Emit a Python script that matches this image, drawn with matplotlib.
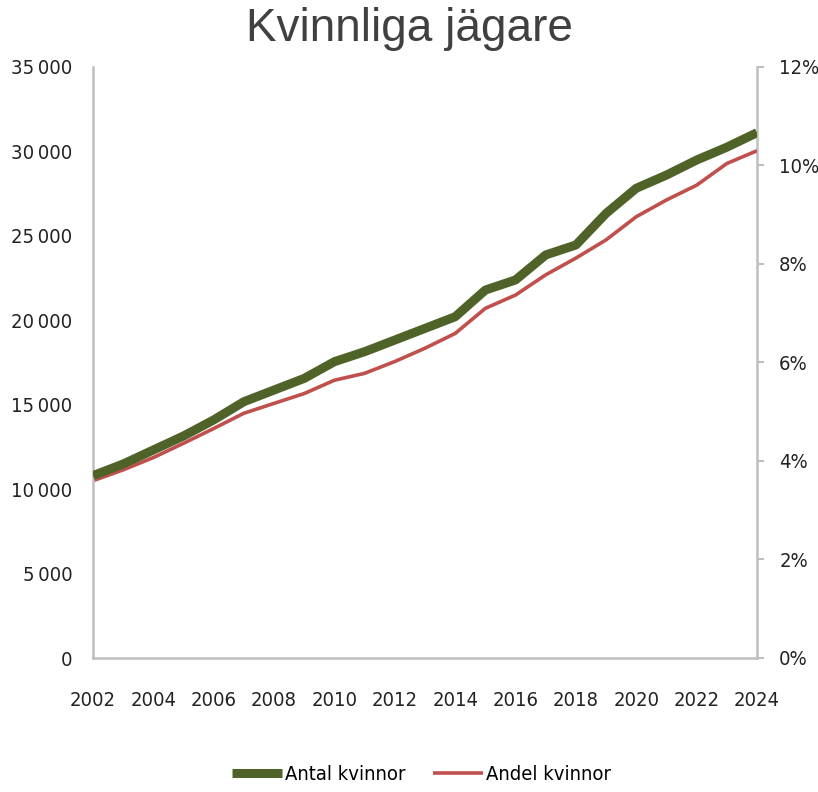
import matplotlib
matplotlib.use("Agg")
import matplotlib.pyplot as plt
from matplotlib import font_manager as fm
from matplotlib.ticker import FuncFormatter, MultipleLocator

years = list(range(2002, 2025))
antal_kvinnor = [10800, 11490, 12320, 13150, 14100, 15180, 15870, 16560, 17550,
                 18140, 18830, 19520, 20210, 21790, 22390, 23870, 24460, 26330,
                 27820, 28600, 29490, 30250, 31110]
andel_kvinnor = [3.60, 3.82, 4.07, 4.36, 4.66, 4.97, 5.17, 5.37, 5.64, 5.78, 6.02,
                 6.29, 6.59, 7.10, 7.37, 7.78, 8.12, 8.49, 8.96, 9.30, 9.60, 10.04, 10.30]
title = "Kvinnliga jägare"
labels = ["Antal kvinnor", "Andel kvinnor"]

DPI = 100
FS = 14.5

def tprop(size):
    return fm.FontProperties(family="DejaVu Sans", stretch="condensed", size=size)

GREEN = "#4F6228"
RED = "#C0504D"
GRAY = "#BFBFBF"

fig = plt.figure(figsize=(8.18, 7.92), dpi=DPI)
ax = fig.add_axes([93/818, 1-658/792, (757-93)/818, (658-67)/792])
ax2 = ax.twinx()

l1, = ax.plot(years, antal_kvinnor, color=GREEN, lw=6.5, solid_capstyle="butt",
              solid_joinstyle="round", label=labels[0], zorder=3)
l2, = ax2.plot(years, andel_kvinnor, color=RED, lw=2.6, solid_capstyle="butt",
               solid_joinstyle="round", label=labels[1], zorder=3)
ax.set_zorder(ax2.get_zorder() + 1)
ax.patch.set_visible(False)

ax.set_xlim(2002, 2024)
ax.set_ylim(0, 35000)
ax2.set_ylim(0, 12)
ax.xaxis.set_major_locator(MultipleLocator(2))
ax.yaxis.set_major_locator(MultipleLocator(5000))
ax2.yaxis.set_major_locator(MultipleLocator(2))

def thousands(v, pos):
    return f"{int(round(v)):,}".replace(",", "\u2009")
ax.yaxis.set_major_formatter(FuncFormatter(thousands))
ax2.yaxis.set_major_formatter(FuncFormatter(lambda v, p: f"{int(round(v))}%"))

for a in (ax, ax2):
    for s in a.spines.values():
        s.set_visible(False)
ax.spines["left"].set_visible(True)
ax.spines["bottom"].set_visible(True)
ax2.spines["right"].set_visible(True)
for s in (ax.spines["left"], ax.spines["bottom"], ax2.spines["right"]):
    s.set_color(GRAY)
    s.set_linewidth(1.8)

ax.tick_params(axis="y", length=0, pad=15, labelcolor="#222222")
ax.tick_params(axis="x", length=0, pad=24, labelcolor="#222222")
ax2.tick_params(axis="y", length=5, width=1.5, color=GRAY, pad=11,
                labelcolor="#222222")
for t in ax.get_xticklabels() + ax.get_yticklabels() + ax2.get_yticklabels():
    t.set_fontproperties(tprop(FS))

fig.text(0.5, 1-29/792, title, ha="center", va="center", fontsize=33,
         family="Liberation Sans", color="#404040")

fs_px = FS * DPI / 72.0
fig.legend([l1, l2], labels, loc="center", bbox_to_anchor=(0.515, 1-775/792),
           ncol=2, frameon=False, prop=tprop(FS),
           handlelength=50 / fs_px, handletextpad=3 / fs_px,
           columnspacing=28 / fs_px)

fig.savefig("out.png", dpi=DPI)
